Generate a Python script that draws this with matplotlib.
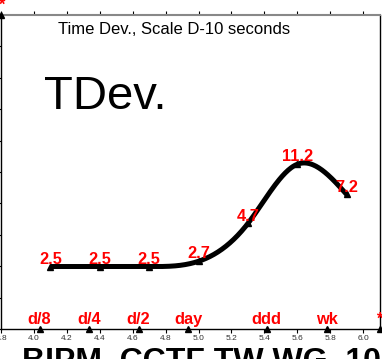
import numpy as np
import matplotlib.pyplot as plt

plt.rcParams['font.family'] = ['Liberation Sans', 'DejaVu Sans']

# TDev (ns) against log10 of averaging time (s)
log_tau = [4.1, 4.4, 4.7, 5.0, 5.3, 5.6, 5.9]
tdev = [2.5, 2.5, 2.5, 2.7, 4.7, 11.2, 7.2]

# reference averaging times marked along the bottom axis (seconds)
ref_names = ['d/8', 'd/4', 'd/2', 'day', 'ddd', 'wk', '*']
ref_secs = [86400 / 8, 86400 / 4, 86400 / 2, 86400, 3 * 86400, 7 * 86400, 10 ** 6.1]

x_ticks = [3.8, 4.0, 4.2, 4.4, 4.6, 4.8, 5.0, 5.2, 5.4, 5.6, 5.8, 6.0]
y_ticks = [0.0, 0.2, 0.4, 0.6, 0.8, 1.0, 1.2, 1.4, 1.6, 1.8, 2.0]


def natural_spline(x, y, n=300):
    # natural cubic spline through the points, for a smooth curve
    x = np.asarray(x, float)
    y = np.asarray(y, float)
    m = len(x)
    h = np.diff(x)
    A = np.zeros((m, m))
    r = np.zeros(m)
    A[0, 0] = A[-1, -1] = 1
    for i in range(1, m - 1):
        A[i, i - 1] = h[i - 1]
        A[i, i] = 2 * (h[i - 1] + h[i])
        A[i, i + 1] = h[i]
        r[i] = 6 * ((y[i + 1] - y[i]) / h[i] - (y[i] - y[i - 1]) / h[i - 1])
    M = np.linalg.solve(A, r)
    xs = np.linspace(x[0], x[-1], n)
    k = np.clip(np.searchsorted(x, xs) - 1, 0, m - 2)
    t0 = x[k + 1] - xs
    t1 = xs - x[k]
    hk = h[k]
    ys = (M[k] * t0 ** 3 + M[k + 1] * t1 ** 3) / (6 * hk) \
        + (y[k] / hk - M[k] * hk / 6) * t0 + (y[k + 1] / hk - M[k + 1] * hk / 6) * t1
    return xs, ys


W, H = 382, 359
fig = plt.figure(figsize=(W / 100, H / 100), dpi=100)
ax = fig.add_axes([1.1 / W, 30 / H, 378.4 / W, 314 / H])

log_tdev = np.log10(tdev)
xs, ys = natural_spline(log_tau, log_tdev)
ax.plot(xs, ys, color='black', lw=3.6, solid_capstyle='butt', zorder=3)
ax.plot(log_tau, log_tdev, '^', color='black', ms=4, zorder=2)

lbl = dict(color='red', fontsize=11.8, fontweight='bold', ha='center', va='baseline')

for x, v in zip(log_tau, tdev):
    ax.annotate(f'{v}', (x, np.log10(v)), xytext=(0, 2), textcoords='offset points',
                zorder=4, **lbl)

# reference time marks on the bottom axis, plus the corner mark
ref_x = np.log10(ref_secs)
ax.plot(ref_x, np.zeros(len(ref_x)), '^', color='black', ms=5, clip_on=False, zorder=5)
for x, name in zip(ref_x, ref_names):
    ax.annotate(name, (x, 0), xytext=(0, 3.6), textcoords='offset points',
                annotation_clip=False, **lbl)
ax.plot([3.8], [2.0], '^', color='black', ms=5, clip_on=False, zorder=5)
ax.annotate('*', (3.8, 2.0), xytext=(0, 3.6), textcoords='offset points',
            annotation_clip=False, **lbl)

ax.set_xlim(3.8, 6.1)
ax.set_ylim(0, 2.0)
ax.set_xticks(x_ticks)
ax.set_xticklabels([f'{t:.1f}' for t in x_ticks])
ax.set_yticks(y_ticks)
ax.set_yticklabels([])
ax.tick_params(axis='x', direction='out', length=3, width=0.8, labelsize=6,
               labelcolor='#333333', pad=1.5, top=True)
ax.tick_params(axis='y', direction='out', length=3, width=0.8)
ax.spines['top'].set_color('#888888')
ax.spines['top'].set_linewidth(1.5)
for s in ['left', 'right', 'bottom']:
    ax.spines[s].set_linewidth(1.0)

fig.text(58 / W, 1 - 34 / H, 'Time Dev., Scale D-10 seconds', fontsize=12,
         ha='left', va='baseline')
fig.text(44 / W, 1 - 109 / H, 'TDev.', fontsize=34, ha='left', va='baseline')
fig.text(22 / W, 1 - 370 / H, 'BIPM, CCTF TW WG, 10 Sept', fontsize=23,
         fontweight='bold', ha='left', va='baseline')

fig.savefig('out.png', dpi=100)
